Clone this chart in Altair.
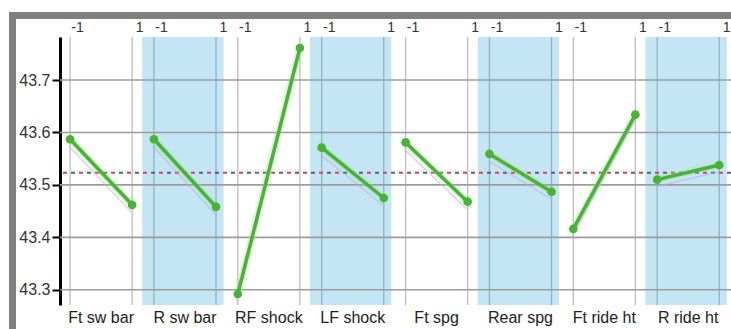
import altair as alt
import pandas as pd

# Main effects of each chassis setting on the response (mean at low / high level)
factors = ["Ft sw bar", "R sw bar", "RF shock", "LF shock",
           "Ft spg", "Rear spg", "Ft ride ht", "R ride ht"]
low_means = [43.587, 43.587, 43.292, 43.571, 43.581, 43.559, 43.416, 43.510]
high_means = [43.462, 43.458, 43.761, 43.475, 43.468, 43.487, 43.634, 43.538]
levels = [-1, 1]
y_ticks = [43.3, 43.4, 43.5, 43.6, 43.7]
grand_mean = 43.523

# Layout of the shared x scale: every factor gets a panel 10 units wide
PANEL = 10.0
CENTER = 4.9
HALF = 3.7
W, H = 671, 268
FONT = "Liberation Sans Narrow, Arial Narrow, Liberation Sans, Arial"


def pos(i, lvl):
    return i * PANEL + CENTER + lvl * HALF


effects = pd.DataFrame(
    [{"factor": f, "level": lvl, "pos": pos(i, lvl),
      "mean": (low_means[i] if lvl == -1 else high_means[i])}
     for i, f in enumerate(factors) for lvl in levels]
)
panels = pd.DataFrame(
    [{"factor": f, "shade": "blue" if i % 2 else "white",
      "lo": i * PANEL - 0.2, "hi": i * PANEL + 9.5, "mid": i * PANEL + CENTER}
     for i, f in enumerate(factors)]
)
vgrid = effects.merge(panels[["factor", "shade"]], on="factor")
tick_positions = list(effects["pos"])

x_scale = alt.Scale(domain=[0, PANEL * len(factors)], nice=False, zero=False)
y_scale = alt.Scale(domain=[43.271, 43.782], nice=False, zero=False)

# One axis definition per channel, shared by every layer so they merge
x_axis = alt.Axis(orient="top", values=tick_positions,
                  labelExpr="datum.value % 10 < 4.9 ? '-1' : '1'",
                  ticks=False, domain=False, grid=False,
                  labelOffset=7, labelOverlap=False, labelFlush=False,
                  labelPadding=3, labelFontSize=14, labelColor="#333",
                  labelFont=FONT, title=None)
y_axis = alt.Axis(values=y_ticks, format=".1f", grid=False,
                  domainColor="black", domainWidth=3,
                  tickColor="black", tickWidth=2, tickSize=8,
                  labelPadding=2, labelFontSize=16, labelColor="#333",
                  labelFont=FONT, title=None)


def X(field):
    return alt.X(field, scale=x_scale, axis=x_axis)


def Y(field):
    return alt.Y(field, scale=y_scale, axis=y_axis)


one = pd.DataFrame({"k": [0]})

border_left = alt.Chart(one).mark_rect(color="#7f7f7f").encode(
    x=alt.value(-51), x2=alt.value(-44), y=alt.value(-25), y2=alt.value(H + 24)
)
border_top = alt.Chart(one).mark_rect(color="#7f7f7f").encode(
    x=alt.value(-51), x2=alt.value(W), y=alt.value(-25), y2=alt.value(-18)
)

bands = alt.Chart(panels).transform_filter("datum.shade == 'blue'").mark_rect(
    color="#c4e5f3"
).encode(
    x=X("lo:Q"), x2="hi:Q",
    y=alt.value(0), y2=alt.value(H),
)

vlines = alt.Chart(vgrid).mark_rule(strokeWidth=1.3).encode(
    x=X("pos:Q"),
    y=alt.value(0), y2=alt.value(H),
    color=alt.Color("shade:N",
                    scale=alt.Scale(domain=["white", "blue"],
                                    range=["#bdbdbd", "#8fb3c4"]),
                    legend=None),
)

hlines = alt.Chart(pd.DataFrame({"t": y_ticks})).mark_rule(
    color="#9c9c9c", strokeWidth=1.6
).encode(y=Y("t:Q"))

mean_df = pd.DataFrame({"m": [grand_mean]})
mean_dark = alt.Chart(mean_df).mark_rule(
    color="#56607e", strokeWidth=2, strokeDash=[4, 12]
).encode(y=Y("m:Q"))
mean_red = alt.Chart(mean_df).mark_rule(
    color="#dc3d62", strokeWidth=2, strokeDash=[4, 12], strokeDashOffset=8
).encode(y=Y("m:Q"))

base = alt.Chart(effects).encode(
    x=X("pos:Q"),
    y=Y("mean:Q"),
    detail="factor:N",
)
shadow = base.mark_line(color="#b9aedb", strokeWidth=1.3, opacity=0.6,
                        yOffset=7, xOffset=-1)
halo = base.mark_line(color="#9ee08f", strokeWidth=7, opacity=0.35)
lines = base.mark_line(color="#45b62f", strokeWidth=3.5)
points = base.mark_circle(color="#45b62f", size=75, opacity=1)

names = alt.Chart(panels).mark_text(
    fontSize=16, font=FONT, color="#222", baseline="middle"
).encode(
    x=X("mid:Q"),
    y=alt.value(H + 13),
    text="factor:N",
)

chart = alt.layer(
    border_left, border_top, bands, vlines, hlines, mean_dark, mean_red,
    shadow, halo, lines, points, names
).properties(
    width=W, height=H,
    autosize=alt.AutoSizeParams(type="none"),
    padding={"left": 60, "top": 37, "right": 0, "bottom": 24},
    background="white",
).configure_view(stroke=None)

chart.save("out.html", embed_options={"renderer": "svg", "actions": False})
